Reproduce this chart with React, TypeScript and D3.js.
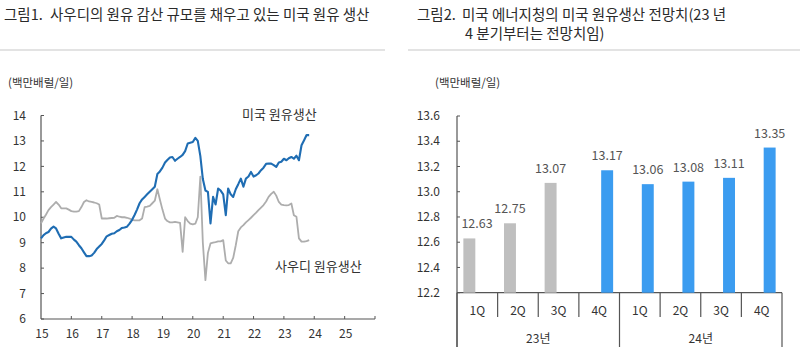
import React, { useEffect, useRef } from 'react';
import * as d3 from 'd3';

// Figure 1: monthly crude oil production (mb/d), Jan 2015 - Nov 2023
const usProduction = [
  9.17, 9.3, 9.37, 9.42, 9.55, 9.63, 9.56, 9.35, 9.17, 9.2, 9.23, 9.23,
  9.23, 9.12, 9.04, 8.9, 8.78, 8.62, 8.47, 8.47, 8.5, 8.6, 8.75, 8.85,
  8.95, 9.1, 9.25, 9.3, 9.35, 9.37, 9.45, 9.5, 9.58, 9.6, 9.63, 9.75,
  9.9, 10.1, 10.3, 10.55, 10.7, 10.8, 10.9, 11.0, 11.1, 11.2, 11.7, 11.8,
  11.95, 12.15, 12.25, 12.35, 12.37, 12.22, 12.3, 12.37, 12.45, 12.6, 12.9, 12.93,
  12.96, 13.12, 13.0, 12.4, 11.5, 11.05, 11.0, 9.76, 10.8, 10.5, 11.13, 11.05,
  10.9, 10.08, 11.13, 10.9, 10.8, 11.1, 11.3, 11.52, 11.2, 11.52, 11.6, 11.78,
  11.6, 11.65, 11.72, 11.85, 11.95, 12.1, 12.11, 12.11, 12.05, 11.98, 12.15, 12.18,
  12.3, 12.24, 12.32, 12.37, 12.3, 12.42, 12.24, 12.83, 13.03, 13.23, 13.23,
];
const saudiProduction = [
  9.76, 9.95, 10.1, 10.28, 10.4, 10.5, 10.6, 10.5, 10.35, 10.35, 10.35, 10.3,
  10.24, 10.22, 10.22, 10.24, 10.4, 10.6, 10.67, 10.62, 10.6, 10.58, 10.55, 10.5,
  9.95, 9.95, 9.95, 9.96, 9.97, 9.98, 10.05, 10.02, 10.0, 10.0, 9.98, 9.95,
  9.9, 9.88, 9.88, 9.88, 9.95, 10.4, 10.42, 10.45, 10.55, 10.65, 11.1, 10.7,
  10.3, 9.95, 9.85, 9.8, 9.8, 9.82, 9.8, 9.78, 8.64, 10.0, 9.85, 9.75,
  9.72, 9.75, 10.0, 11.6, 9.0, 7.53, 8.6, 8.97, 9.0, 9.02, 9.05, 9.05,
  9.1, 8.3, 8.19, 8.19, 8.4, 8.9, 9.45, 9.6, 9.69, 9.8, 9.89, 9.98,
  10.08, 10.18, 10.28, 10.38, 10.48, 10.62, 10.8, 10.92, 11.0, 10.85, 10.6, 10.5,
  10.48, 10.47, 10.48, 10.54, 10.08, 10.02, 9.17, 9.04, 9.04, 9.06, 9.1,
];
const months = d3.timeMonths(new Date(2015, 0, 1), new Date(2023, 11, 1));
const yearTicks = d3.range(2015, 2026);
const leftYTicks = [6, 7, 8, 9, 10, 11, 12, 13, 14];

// Figure 2: EIA quarterly outlook (mb/d)
const quarterKeys = ['23-1Q', '23-2Q', '23-3Q', '23-4Q', '24-1Q', '24-2Q', '24-3Q', '24-4Q'];
const quarterLabels = ['1Q', '2Q', '3Q', '4Q', '1Q', '2Q', '3Q', '4Q'];
const yearLabels = ['23년', '24년'];
const actualValues = [12.63, 12.75, 13.07, null, null, null, null, null];
const outlookValues = [null, null, null, 13.17, 13.06, 13.08, 13.11, 13.35];
const rightYTicks = [12.2, 12.4, 12.6, 12.8, 13.0, 13.2, 13.4, 13.6];

const FONT = '"Noto Sans CJK KR", "Noto Sans", sans-serif';
const AXIS = '#555';
const TEXT = '#333';

export default function App() {
  const svgRef = useRef<SVGSVGElement>(null);

  useEffect(() => {
    const svg = d3.select(svgRef.current);
    svg.selectAll('*').remove();
    svg.style('font-family', FONT);

    // Titles
    const titles = [
      { x: 4, y: 20, t: '그림1.' },
      { x: 50, y: 20, t: '사우디의 원유 감산 규모를 채우고 있는 미국 원유 생산' },
      { x: 417, y: 20, t: '그림2.' },
      { x: 462, y: 20, t: '미국 에너지청의 미국 원유생산 전망치(23 년' },
      { x: 465, y: 39, t: '4 분기부터는 전망치임)' },
    ];
    svg.selectAll('.title')
      .data(titles)
      .enter()
      .append('text')
      .attr('x', d => d.x)
      .attr('y', d => d.y)
      .style('font-size', '14.5px')
      .style('fill', '#2a2a2a')
      .text(d => d.t);

    svg.append('line').attr('x1', 0).attr('x2', 385).attr('y1', 50).attr('y2', 50)
      .style('stroke', '#c8c8c8').style('stroke-width', 1.2);
    svg.append('line').attr('x1', 408).attr('x2', 800).attr('y1', 50).attr('y2', 50)
      .style('stroke', '#c8c8c8').style('stroke-width', 1.2);

    // Units
    [8, 435].forEach(x => {
      svg.append('text')
        .attr('x', x)
        .attr('y', 87)
        .style('font-size', '11.5px')
        .style('fill', TEXT)
        .text('(백만배럴/일)');
    });

    // ---------- Left: line chart ----------
    const xL = d3.scaleTime()
      .domain([new Date(2015, 0, 1), new Date(2026, 0, 1)])
      .range([41, 375]);
    const yL = d3.scaleLinear().domain([6, 14]).range([319, 115.5]);

    const left = svg.append('g');

    left.append('line').attr('x1', 41).attr('x2', 41).attr('y1', yL(14)).attr('y2', yL(6))
      .style('stroke', AXIS).style('stroke-width', 1.2);
    left.append('line').attr('x1', 41).attr('x2', 375).attr('y1', yL(6)).attr('y2', yL(6))
      .style('stroke', AXIS).style('stroke-width', 1.2);

    left.selectAll('.ytick')
      .data(leftYTicks)
      .enter()
      .append('line')
      .attr('x1', 41)
      .attr('x2', 44)
      .attr('y1', d => yL(d))
      .attr('y2', d => yL(d))
      .style('stroke', AXIS);

    left.selectAll('.ylabel')
      .data(leftYTicks)
      .enter()
      .append('text')
      .attr('x', 26)
      .attr('y', d => yL(d))
      .attr('dy', '0.35em')
      .attr('text-anchor', 'end')
      .style('font-size', '12px')
      .style('fill', TEXT)
      .text(d => d);

    left.selectAll('.xtick')
      .data([...yearTicks.slice(1), 2026])
      .enter()
      .append('line')
      .attr('x1', d => xL(new Date(d, 0, 1)))
      .attr('x2', d => xL(new Date(d, 0, 1)))
      .attr('y1', yL(6))
      .attr('y2', yL(6) - 3)
      .style('stroke', AXIS);

    left.selectAll('.xlabel')
      .data(yearTicks)
      .enter()
      .append('text')
      .attr('x', d => xL(new Date(d, 0, 1)) + 1)
      .attr('y', 338)
      .attr('text-anchor', 'middle')
      .style('font-size', '12px')
      .style('fill', TEXT)
      .text(d => String(d).slice(2));

    const line = d3.line<number>()
      .x((d, i) => xL(months[i]))
      .y(d => yL(d));

    left.append('path')
      .datum(saudiProduction)
      .attr('d', line)
      .style('fill', 'none')
      .style('stroke', '#adadad')
      .style('stroke-width', 1.8)
      .style('stroke-linejoin', 'round');

    left.append('path')
      .datum(usProduction)
      .attr('d', line)
      .style('fill', 'none')
      .style('stroke', '#1f6db3')
      .style('stroke-width', 2.1)
      .style('stroke-linejoin', 'round');

    left.append('text').attr('x', 242).attr('y', 119)
      .style('font-size', '13px').style('fill', TEXT).text('미국 원유생산');
    left.append('text').attr('x', 275).attr('y', 271)
      .style('font-size', '13px').style('fill', TEXT).text('사우디 원유생산');

    // ---------- Right: bar chart ----------
    const x0 = d3.scaleBand().domain(quarterKeys).range([457, 782]);
    const x1 = d3.scaleBand()
      .domain(['actual', 'outlook'])
      .range([0, x0.bandwidth()])
      .paddingInner(0.25)
      .paddingOuter(0.4);
    const yR = d3.scaleLinear().domain([12.2, 13.6]).range([292.7, 116]);

    const right = svg.append('g');

    right.append('line').attr('x1', 457).attr('x2', 457).attr('y1', yR(13.6)).attr('y2', 347)
      .style('stroke', AXIS).style('stroke-width', 1.2);
    right.append('line').attr('x1', 457).attr('x2', 782).attr('y1', yR(12.2)).attr('y2', yR(12.2))
      .style('stroke', AXIS).style('stroke-width', 1.2);

    right.selectAll('.ytick')
      .data(rightYTicks)
      .enter()
      .append('line')
      .attr('x1', 457)
      .attr('x2', 460)
      .attr('y1', d => yR(d))
      .attr('y2', d => yR(d))
      .style('stroke', AXIS);

    right.selectAll('.ylabel')
      .data(rightYTicks)
      .enter()
      .append('text')
      .attr('x', 440)
      .attr('y', d => yR(d))
      .attr('dy', '0.35em')
      .attr('text-anchor', 'end')
      .style('font-size', '12px')
      .style('fill', TEXT)
      .text(d => d.toFixed(1));

    // category dividers
    const bounds = [...quarterKeys.map(k => x0(k) as number), 782];
    right.selectAll('.divider')
      .data(bounds)
      .enter()
      .append('line')
      .attr('x1', d => d)
      .attr('x2', d => d)
      .attr('y1', yR(12.2))
      .attr('y2', (d, i) => (i % 4 === 0 ? 347 : 317))
      .style('stroke', AXIS)
      .style('stroke-width', 1.2);

    right.selectAll('.qlabel')
      .data(quarterKeys)
      .enter()
      .append('text')
      .attr('x', d => (x0(d) as number) + x0.bandwidth() / 2)
      .attr('y', 315)
      .attr('text-anchor', 'middle')
      .style('font-size', '12px')
      .style('fill', TEXT)
      .text((d, i) => quarterLabels[i]);

    right.selectAll('.yrlabel')
      .data(yearLabels)
      .enter()
      .append('text')
      .attr('x', (d, i) => (x0(quarterKeys[i * 4]) as number) + x0.bandwidth() * 2)
      .attr('y', 343)
      .attr('text-anchor', 'middle')
      .style('font-size', '12px')
      .style('fill', TEXT)
      .text(d => d);

    const barData = [
      ...actualValues.map((v, i) => ({ key: quarterKeys[i], s: 'actual', v, color: '#bfbfbf' })),
      ...outlookValues.map((v, i) => ({ key: quarterKeys[i], s: 'outlook', v, color: '#3b9cf0' })),
    ].filter(d => d.v !== null) as { key: string; s: string; v: number; color: string }[];

    right.selectAll('.bar')
      .data(barData)
      .enter()
      .append('rect')
      .attr('x', d => (x0(d.key) as number) + (x1(d.s) as number))
      .attr('width', x1.bandwidth())
      .attr('y', d => yR(d.v))
      .attr('height', d => yR(12.2) - yR(d.v))
      .style('fill', d => d.color);

    // labels centred on bars, kept clear of the axis line
    right.selectAll('.vlabel')
      .data(barData)
      .enter()
      .append('text')
      .attr('x', d => Math.max((x0(d.key) as number) + (x1(d.s) as number) + x1.bandwidth() / 2, 477))
      .attr('y', d => yR(d.v) - 10)
      .attr('text-anchor', 'middle')
      .style('font-size', '12.5px')
      .style('fill', '#555')
      .text(d => d.v.toFixed(2));
  }, []);

  return (
    <svg
      ref={svgRef}
      width={800}
      height={361}
      style={{ position: 'absolute', left: 0, top: 0, background: '#fff' }}
    />
  );
}
